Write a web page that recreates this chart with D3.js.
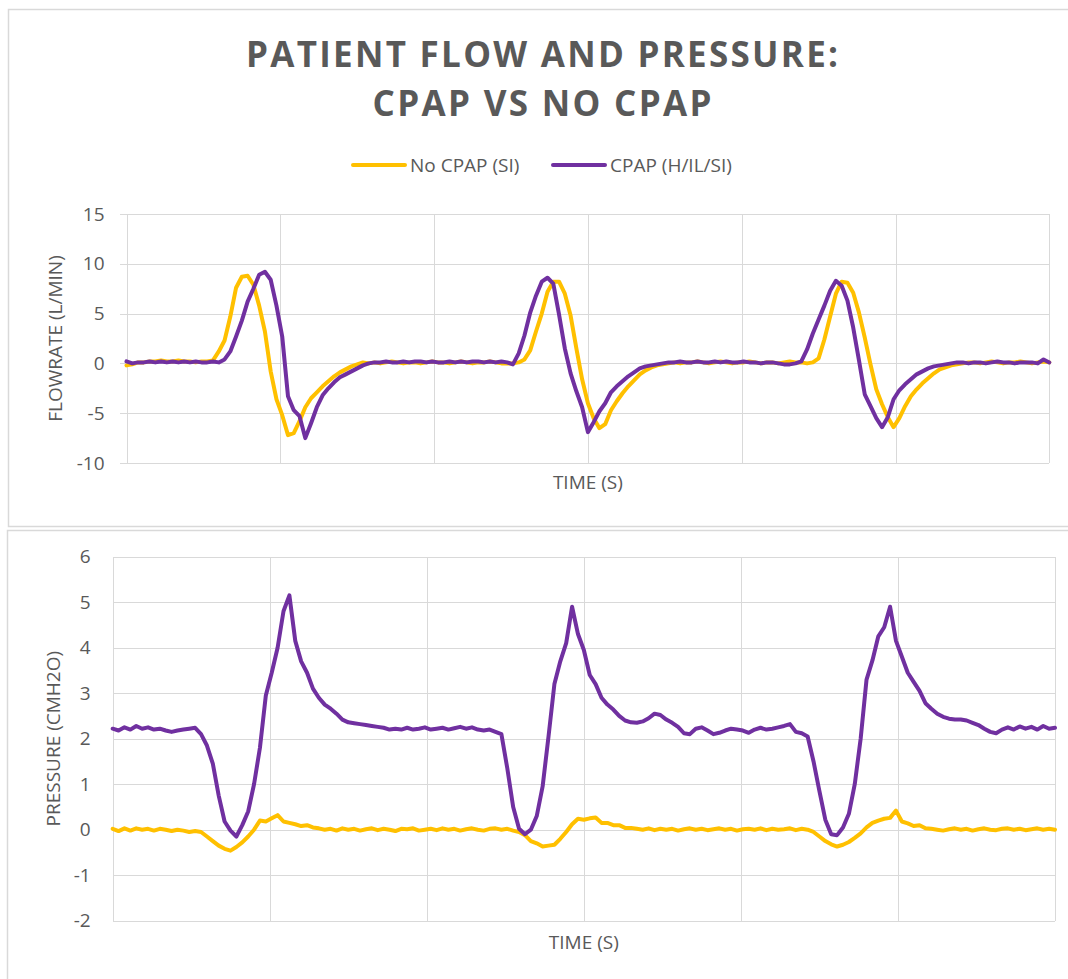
<html>
<head>
<meta charset="utf-8">
<script src="https://d3js.org/d3.v7.min.js"></script>
<style>
    body { margin: 0; background: #fff; }
    text { font-family: "Open Sans", sans-serif; fill: #595959; }
    .grid line { stroke: #d9d9d9; stroke-width: 1; shape-rendering: crispEdges; }
    .grid path { stroke-width: 0; }
    .grid text { font-size: 19px; fill: #595959; }
    .frame { fill: none; stroke: #d9d9d9; stroke-width: 1.5; }
</style>
</head>
<body>
<svg id="chart" width=1068 height=979></svg>
<script>
// series names / colours
var seriesNames = ["No CPAP (SI)", "CPAP (H/IL/SI)"];
var seriesColors = ["#FFC000", "#7030A0"];

// tick labels
var flowTicks = [-10, -5, 0, 5, 10, 15];
var pressTicks = [-2, -1, 0, 1, 2, 3, 4, 5, 6];

// flow rate (L/min), one sample per time step
var flowNoCpap = [
    -0.2, -0.1, 0.1, 0.1, 0.2, 0.2, 0.3, 0.2, 0.2, 0.3, 0.2, 0.2, 0.1, 0.2, 0.2,
    0.3, 1.2, 2.3, 4.7, 7.6, 8.7, 8.8, 7.9, 5.8, 3.2, -0.8, -3.6, -5.2, -7.2, -7.0, -5.8, -4.4, -3.5, -2.9, -2.3, -1.8, -1.3, -0.9, -0.6, -0.3, -0.1, 0.1, 0.0,
    0.1, 0.0, 0.1, 0.2, 0.1, 0.0, 0.1, 0.1, 0.0, 0.1, 0.2, 0.1, 0.1, 0.0, 0.1, 0.2, 0.1, 0.0, 0.1, 0.1, 0.2, 0.1, 0.0,
    0.0, 0.0, 0.1, 0.4, 1.3, 3.2, 5.0, 7.2, 8.2, 8.2, 7.0, 4.8, 1.5, -1.6, -4.0, -5.5, -6.5, -6.1, -4.7, -3.8, -3.0, -2.3, -1.7, -1.1, -0.7, -0.4, -0.2, -0.1, 0.0,
    0.1, 0.0, 0.1, 0.1, 0.2, 0.1, 0.0, 0.1, 0.2, 0.1, 0.0, 0.1, 0.1, 0.2, 0.1, 0.0, 0.1, 0.1, 0.0, 0.1, 0.2, 0.1, 0.1, 0.0, 0.1,
    0.5, 2.4, 4.7, 7.0, 8.2, 8.1, 7.1, 5.1, 2.6, -0.1, -2.6, -4.1, -5.4, -6.4, -5.5, -4.3, -3.3, -2.6, -2.0, -1.5, -1.0, -0.6, -0.4, -0.2, -0.1,
    0.0, 0.1, 0.1, 0.0, 0.1, 0.2, 0.1, 0.0, 0.1, 0.1, 0.2, 0.1, 0.0, 0.1, 0.2, 0.1
];
var flowCpap = [
    0.2, 0.0, 0.1, 0.1, 0.2, 0.1, 0.2, 0.1, 0.2, 0.1, 0.2, 0.1, 0.2, 0.1, 0.1, 0.2, 0.1,
    0.4, 1.2, 2.7, 4.3, 6.2, 7.5, 8.9, 9.2, 8.4, 5.8, 2.7, -3.3, -4.7, -5.3, -7.5, -6.0, -4.4, -3.2, -2.5, -1.9, -1.4, -1.1, -0.8, -0.5, -0.2, 0.0, 0.1,
    0.1, 0.2, 0.1, 0.1, 0.2, 0.1, 0.2, 0.2, 0.1, 0.2, 0.1, 0.1, 0.2, 0.1, 0.2, 0.1, 0.2, 0.2, 0.1, 0.2, 0.1, 0.2, 0.1,
    -0.1, 1.0, 2.8, 5.1, 6.8, 8.2, 8.6, 8.0, 4.9, 1.5, -1.0, -2.8, -4.4, -6.9, -5.9, -4.8, -4.0, -2.9, -2.3, -1.8, -1.3, -0.9, -0.5, -0.3, -0.2, -0.1, 0.0,
    0.1, 0.1, 0.2, 0.1, 0.1, 0.2, 0.1, 0.1, 0.2, 0.1, 0.2, 0.1, 0.1, 0.2, 0.1, 0.1, 0.0, 0.1, 0.1, 0.0, -0.1, -0.1, 0.0, 0.2,
    1.4, 3.0, 4.4, 5.8, 7.3, 8.3, 7.8, 6.3, 3.6, 0.3, -3.1, -4.3, -5.5, -6.4, -5.4, -3.6, -2.7, -2.1, -1.6, -1.1, -0.8, -0.5, -0.3, -0.2, -0.1,
    0.0, 0.1, 0.1, 0.0, 0.1, 0.1, 0.0, 0.1, 0.2, 0.1, 0.1, 0.0, 0.1, 0.1, 0.1, 0.0, 0.4, 0.1
];

// pressure (cmH2O), same time steps
var pressNoCpap = [
    0.02, -0.03, 0.03, -0.02, 0.03, 0, 0.02, -0.02, 0.02, 0, -0.03, 0, -0.02, -0.05, -0.03,
    -0.05, -0.15, -0.25, -0.35, -0.42, -0.46, -0.38, -0.28, -0.15, 0.0, 0.2, 0.18, 0.25, 0.32, 0.18, 0.15, 0.12, 0.08, 0.1, 0.05,
    0.03, 0.0, 0.02, -0.02, 0.03, 0.0, 0.02, -0.02, 0.01, 0.03, -0.01, 0.02, 0.0, -0.03, 0.02, 0.01, 0.03, -0.02, 0.0, 0.02, -0.01, 0.03, 0.0, 0.02, -0.02, 0.01, 0.03, 0.0, -0.02, 0.02, 0.03, 0.0, 0.02,
    -0.02, -0.05, -0.12, -0.25, -0.3, -0.37, -0.35, -0.33, -0.2, -0.05, 0.12, 0.24, 0.22, 0.25, 0.27, 0.15, 0.15, 0.1, 0.1, 0.04, 0.04,
    0.02, 0.0, 0.03, -0.01, 0.02, 0.0, 0.02, -0.02, 0.01, 0.03, 0.0, 0.02, -0.01, 0.01, 0.03, 0.0, 0.02, -0.02, 0.01, 0.02, 0.0, 0.03, -0.01, 0.02, 0.0, 0.01, 0.03, -0.01, 0.02,
    0.0, -0.05, -0.15, -0.25, -0.32, -0.37, -0.33, -0.27, -0.18, -0.08, 0.05, 0.15, 0.2, 0.24, 0.26, 0.42, 0.18, 0.14, 0.08, 0.1, 0.03,
    0.02, 0.0, -0.02, 0.01, 0.03, 0.0, 0.02, -0.02, 0.01, 0.03, 0.0, -0.01, 0.02, 0.03, 0.0, 0.02, -0.01, 0.01, 0.03, 0.0, 0.02, 0.0
];
var pressCpap = [
    2.22, 2.18, 2.25, 2.2, 2.28, 2.22, 2.25, 2.2, 2.22, 2.18, 2.15, 2.18, 2.2, 2.22, 2.24,
    2.1, 1.85, 1.45, 0.75, 0.18, -0.02, -0.15, 0.1, 0.4, 1.0, 1.8, 2.95, 3.45, 4.0, 4.8, 5.15, 4.15, 3.7, 3.45, 3.1, 2.9, 2.75, 2.66, 2.55, 2.42, 2.36, 2.34, 2.32, 2.3, 2.28, 2.26, 2.24, 2.2, 2.22, 2.2,
    2.24, 2.2, 2.22, 2.25, 2.2, 2.22, 2.24, 2.2, 2.23, 2.26, 2.22, 2.25, 2.2, 2.18, 2.2,
    2.15, 2.1, 1.35, 0.5, 0.02, -0.1, 0.0, 0.3, 0.95, 2.05, 3.2, 3.7, 4.1, 4.9, 4.3, 3.95, 3.4, 3.2, 2.9, 2.75, 2.64, 2.5, 2.4, 2.36, 2.35, 2.38, 2.45, 2.55, 2.52, 2.42, 2.35, 2.26, 2.12, 2.1, 2.22, 2.25, 2.18, 2.1, 2.13, 2.18, 2.22, 2.2, 2.18, 2.13, 2.2, 2.24, 2.2, 2.22, 2.25, 2.28, 2.32,
    2.15, 2.12, 2.05, 1.5, 0.85, 0.22, -0.1, -0.12, 0.05, 0.35, 1.0, 2.0, 3.3, 3.72, 4.25, 4.45, 4.9, 4.15, 3.8, 3.45, 3.25, 3.05, 2.78, 2.66, 2.55, 2.48, 2.44, 2.42, 2.42, 2.4, 2.35, 2.3, 2.22, 2.15, 2.12, 2.2, 2.25, 2.2, 2.27, 2.22, 2.26, 2.2, 2.28, 2.22, 2.24
];

var svg = d3.select("#chart");

// chart frames
svg.append("rect").attr("class", "frame").attr("x", 8.5).attr("y", 9.5).attr("width", 1070).attr("height", 517);
svg.append("rect").attr("class", "frame").attr("x", 7.5).attr("y", 530.5).attr("width", 1070).attr("height", 460);

// Function to draw one line panel
function drawPanel(opt) {
    var g = svg.append("g");

    var x = d3.scaleLinear()
        .domain([0, opt.series[0].length - 1])
        .range([opt.left, opt.right]);

    var gx = d3.scaleLinear().domain([0, 6]).range([opt.left, opt.right]);

    var y = d3.scaleLinear()
        .domain([opt.ticks[0], opt.ticks[opt.ticks.length - 1]])
        .range([opt.bottom, opt.top]);

    // horizontal gridlines + tick labels (plain hyphen minus like the original)
    g.append("g")
        .attr("class", "grid")
        .attr("transform", "translate(" + (opt.left - opt.stub) + ",0)")
        .call(d3.axisLeft(y).tickValues(opt.ticks)
            .tickSize(-(opt.right - opt.left + opt.stub))
            .tickPadding(opt.pad)
            .tickFormat(function(d) { return String(d); }))
        .selectAll("text").style("font-size", "19px");

    // vertical gridlines
    g.append("g")
        .attr("class", "grid")
        .attr("transform", "translate(0," + opt.bottom + ")")
        .call(d3.axisBottom(gx).tickValues(d3.range(7)).tickSize(-(opt.bottom - opt.top)).tickFormat(""));

    var line = d3.line()
        .x(function(d, i) { return x(i); })
        .y(function(d) { return y(d); });

    opt.series.forEach(function(s, k) {
        g.append("path")
            .datum(s)
            .attr("fill", "none")
            .attr("stroke", seriesColors[k])
            .attr("stroke-width", 4)
            .attr("stroke-linejoin", "round")
            .attr("stroke-linecap", "round")
            .attr("d", line);
    });

    // x axis label
    g.append("text")
        .attr("x", (opt.left + opt.right) / 2)
        .attr("y", opt.xLabelY)
        .style("text-anchor", "middle")
        .style("font-size", "19px")
        .text("TIME (S)");

    // y axis label
    g.append("text")
        .attr("transform", "translate(" + opt.yLabelX + "," + ((opt.top + opt.bottom) / 2) + ") rotate(-90)")
        .style("text-anchor", "middle")
        .style("font-size", "19px")
        .text(opt.yLabel);
}

drawPanel({
    series: [flowNoCpap, flowCpap], ticks: flowTicks,
    left: 126.5, right: 1049.3, top: 214, bottom: 463, stub: 7, pad: 15,
    xLabelY: 489, yLabelX: 62, yLabel: "FLOWRATE (L/MIN)"
});

drawPanel({
    series: [pressNoCpap, pressCpap], ticks: pressTicks,
    left: 112.7, right: 1055, top: 556.7, bottom: 920.7, stub: 0, pad: 22,
    xLabelY: 949, yLabelX: 60, yLabel: "PRESSURE (CMH2O)"
});

// chart title
svg.append("text")
    .attr("x", 542).attr("y", 67)
    .style("text-anchor", "middle")
    .style("font-size", "35px").style("font-weight", "bold")
    .attr("textLength", 592).attr("lengthAdjust", "spacing")
    .text("PATIENT FLOW AND PRESSURE:");
svg.append("text")
    .attr("x", 542).attr("y", 116)
    .style("text-anchor", "middle")
    .style("font-size", "35px").style("font-weight", "bold")
    .attr("textLength", 339).attr("lengthAdjust", "spacing")
    .text("CPAP VS NO CPAP");

// legend
var legendX = [353, 553];
seriesNames.forEach(function(name, k) {
    svg.append("line")
        .attr("x1", legendX[k]).attr("x2", legendX[k] + 52)
        .attr("y1", 165).attr("y2", 165)
        .attr("stroke", seriesColors[k])
        .attr("stroke-width", 4)
        .attr("stroke-linecap", "round");
    svg.append("text")
        .attr("x", legendX[k] + 57).attr("y", 172)
        .style("font-size", "19px")
        .text(name);
});
</script>
</body>
</html>
